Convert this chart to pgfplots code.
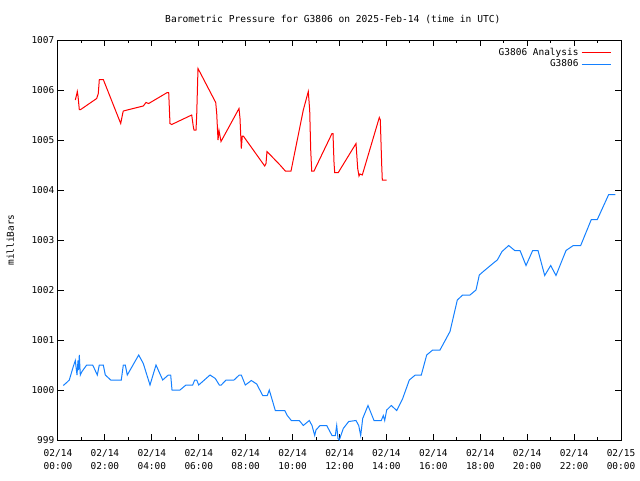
\documentclass[border=0pt]{standalone}
\usepackage{fontspec}
\setmainfont{DejaVu Sans Mono}
\setmonofont{DejaVu Sans Mono}
\usepackage{pgfplots}
\pgfplotsset{compat=1.18}
\definecolor{gred}{RGB}{255,0,0}
\definecolor{gblue}{RGB}{20,128,255}
\begin{document}
\begin{tikzpicture}
\fontsize{7.1}{8.5}\selectfont
\useasboundingbox (0,0) rectangle (480pt,360pt);
\begin{axis}[
  at={(43.5pt,30pt)}, anchor=south west,
  scale only axis, width=422.25pt, height=300pt,
  xmin=0, xmax=24, ymin=999, ymax=1007,
  xtick={0,2,...,24},
  minor xtick={1,3,...,23},
  ytick={999,1000,...,1007},
  xticklabels={02/14\\00:00,02/14\\02:00,02/14\\04:00,02/14\\06:00,02/14\\08:00,02/14\\10:00,02/14\\12:00,02/14\\14:00,02/14\\16:00,02/14\\18:00,02/14\\20:00,02/14\\22:00,02/15\\00:00},
  xticklabel style={align=center, font=\fontsize{7.1}{9.5}\selectfont, yshift=-4.5pt},
  yticklabel style={/pgf/number format/.cd, set thousands separator={}, assume math mode=true},
  /pgf/number format/assume math mode=true,
  ticklabel style={font=\fontsize{7.1}{9.5}\selectfont},
  tick align=inside,
  major tick length=4.5pt, minor tick length=2.25pt,
  tick style={black, line width=0.75pt},
  axis line style={black, line width=0.75pt},
  title={Barometric Pressure for G3806 on 2025-Feb-14 (time in UTC)},
  title style={font=\fontsize{7.2}{8.5}\selectfont, yshift=3.5pt, xshift=-5pt},
  ylabel={milliBars},
  ylabel style={font=\fontsize{7.1}{8.5}\selectfont, yshift=8pt},
  legend plot pos=right,
  legend cell align=right,
  legend style={draw=none, fill=none, at={(1,1)}, anchor=north east, xshift=-4pt, yshift=-1.5pt, font=\fontsize{7.1}{8.5}\selectfont, row sep=-1.5pt},
  legend image code/.code={\draw[#1] (0pt,0pt) -- (21.75pt,0pt);},
  line width=0.75pt,
]
\addplot[gred, line width=0.75pt] coordinates {
(0.738,1005.80)(0.797,1005.91)(0.823,1005.97)(0.853,1005.88)(0.908,1005.61)(0.968,1005.61)
(1.650,1005.83)(1.718,1005.93)(1.761,1006.21)(1.931,1006.21)(2.673,1005.33)(2.758,1005.53)
(2.784,1005.58)(3.636,1005.68)(3.751,1005.75)(3.866,1005.73)(4.659,1005.95)(4.719,1005.95)
(4.774,1005.33)(4.847,1005.31)(5.700,1005.50)(5.768,1005.27)(5.798,1005.20)(5.883,1005.20)
(5.913,1005.50)(5.968,1006.43)(6.723,1005.75)(6.766,1005.53)(6.821,1005.00)(6.864,1005.19)
(6.906,1005.08)(6.949,1004.97)(7.716,1005.63)(7.759,1005.43)(7.814,1004.83)(7.857,1005.08)
(7.899,1005.08)(8.811,1004.48)(8.867,1004.53)(8.909,1004.77)(9.464,1004.50)(9.690,1004.38)
(9.933,1004.38)(10.457,1005.60)(10.670,1005.97)(10.730,1005.59)(10.773,1004.80)(10.815,1004.38)
(10.913,1004.38)(11.680,1005.13)(11.723,1005.13)(11.766,1004.55)(11.795,1004.35)(11.949,1004.35)
(12.704,1004.93)(12.776,1004.43)(12.831,1004.28)(12.874,1004.32)(12.972,1004.30)(13.697,1005.45)
(13.740,1005.40)(13.799,1004.50)(13.825,1004.20)(14.012,1004.20)
};
\addlegendentry{G3806 Analysis}
\addplot[gblue, line width=0.75pt] coordinates {
(0.226,1000.09)(0.371,1000.15)(0.482,1000.20)(0.652,1000.47)(0.737,1000.59)(0.810,1000.30)
(0.853,1000.59)(0.882,1000.40)(0.908,1000.70)(0.951,1000.30)(1.023,1000.37)(1.223,1000.50)
(1.479,1000.50)(1.675,1000.30)(1.761,1000.50)(1.931,1000.50)(2.016,1000.30)(2.247,1000.20)
(2.698,1000.20)(2.784,1000.50)(2.869,1000.50)(2.954,1000.30)(3.039,1000.37)(3.440,1000.70)
(3.636,1000.53)(3.922,1000.10)(4.178,1000.50)(4.463,1000.20)(4.702,1000.30)(4.804,1000.30)
(4.860,1000.00)(5.201,1000.00)(5.456,1000.10)(5.742,1000.10)(5.827,1000.20)(5.913,1000.20)
(5.998,1000.10)(6.480,1000.30)(6.706,1000.23)(6.876,1000.10)(6.961,1000.10)(7.162,1000.20)
(7.503,1000.20)(7.729,1000.30)(7.814,1000.30)(7.985,1000.10)(8.129,1000.15)(8.240,1000.19)
(8.470,1000.12)(8.726,999.89)(8.922,999.89)(9.007,1000.00)(9.263,999.59)(9.664,999.59)
(9.775,999.49)(9.945,999.39)(10.286,999.39)(10.457,999.29)(10.713,999.39)(10.828,999.29)
(10.943,999.09)(10.998,999.20)(11.169,999.29)(11.455,999.29)(11.680,999.09)(11.821,999.09)
(11.881,999.29)(11.936,999.03)(11.991,999.00)(12.162,999.23)(12.392,999.37)(12.703,999.39)
(12.819,999.29)(12.904,999.09)(12.989,999.43)(13.215,999.69)(13.471,999.39)(13.782,999.39)
(13.867,999.49)(13.927,999.39)(14.012,999.60)(14.208,999.69)(14.438,999.59)(14.694,999.83)
(14.976,1000.20)(15.231,1000.30)(15.487,1000.30)(15.717,1000.70)(15.973,1000.80)(16.284,1000.80)
(16.711,1001.17)(17.022,1001.80)(17.252,1001.90)(17.563,1001.90)(17.819,1002.00)(17.960,1002.30)
(18.130,1002.37)(18.616,1002.56)(18.727,1002.60)(18.928,1002.77)(19.213,1002.89)(19.469,1002.79)
(19.695,1002.79)(19.951,1002.49)(20.236,1002.79)(20.462,1002.79)(20.748,1002.29)(21.003,1002.49)
(21.229,1002.29)(21.656,1002.79)(21.967,1002.89)(22.282,1002.89)(22.734,1003.41)(22.990,1003.41)
(23.476,1003.91)(23.757,1003.91)
};
\addlegendentry{G3806}
\end{axis}
\end{tikzpicture}
\end{document}
